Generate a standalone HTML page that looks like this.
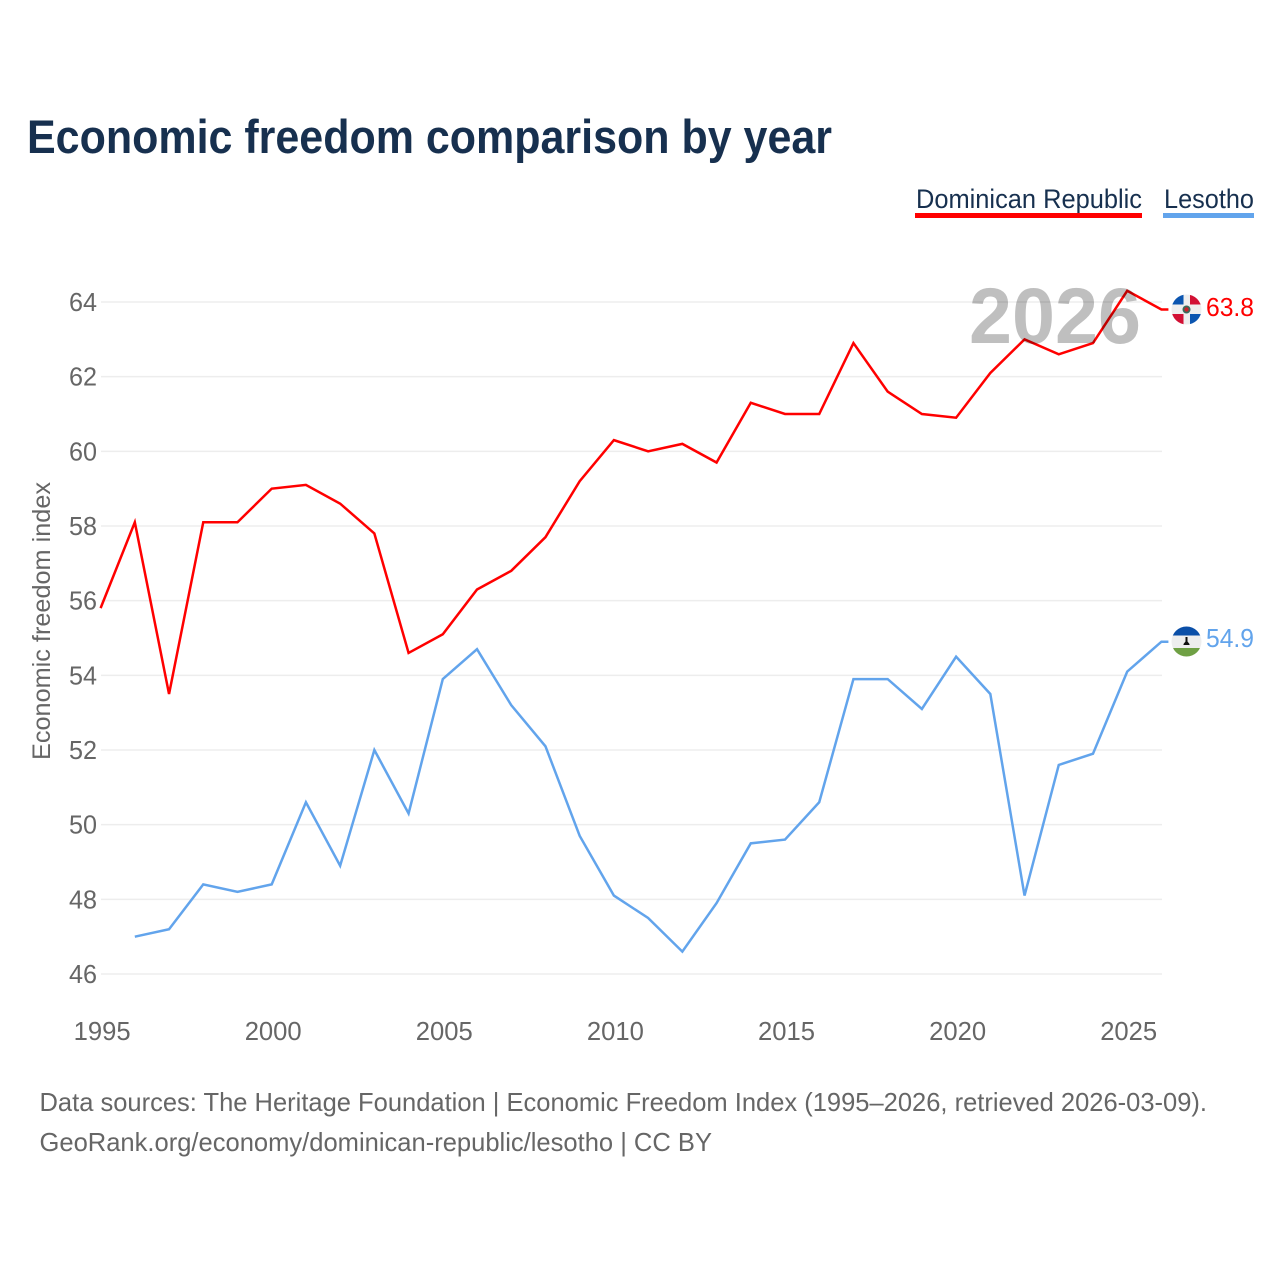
<!DOCTYPE html>
<html lang="en">
<head>
<meta charset="utf-8">
<title>Economic freedom comparison by year</title>
<style>
html,body{margin:0;padding:0;background:#fff;width:1280px;height:1280px;overflow:hidden}
svg{display:block}
text{font-family:"Liberation Sans",Arial,sans-serif}
</style>
</head>
<body>
<svg id="chart" xmlns="http://www.w3.org/2000/svg" width="1280" height="1280" viewBox="0 0 1280 1280">
  <defs>
    <clipPath id="flag-clip-do"><circle cx="1186.5" cy="309.5" r="15"/></clipPath>
    <clipPath id="flag-clip-ls"><circle cx="1186.5" cy="641.5" r="15"/></clipPath>
  </defs>
  <rect width="1280" height="1280" fill="#fff"/>
  <text x="27" y="153" font-size="47" font-weight="700" fill="#17304f" textLength="805" lengthAdjust="spacingAndGlyphs">Economic freedom comparison by year</text>

  <g>
    <text x="916" y="208" font-size="27" fill="#17304f" textLength="226" lengthAdjust="spacingAndGlyphs">Dominican Republic</text>
    <rect x="915" y="213" width="227" height="5" fill="#ff0000"/>
  </g>
  <g>
    <text x="1164" y="208" font-size="27" fill="#17304f" textLength="90" lengthAdjust="spacingAndGlyphs">Lesotho</text>
    <rect x="1163" y="213" width="91" height="5" fill="#62a4ec"/>
  </g>

  <g id="grid"></g>
  <g id="y-ticks"></g>
  <g id="x-ticks"></g>
  <text transform="translate(50,760) rotate(-90)" x="0" y="0" font-size="25" fill="#666" textLength="278" lengthAdjust="spacingAndGlyphs">Economic freedom index</text>
  <g id="series"></g>

  <text x="969" y="343" font-size="79" font-weight="700" fill="#000" fill-opacity="0.25" textLength="172" lengthAdjust="spacingAndGlyphs">2026</text>

  <g clip-path="url(#flag-clip-do)">
    <rect x="1171" y="294" width="31" height="31" fill="#eee"/>
    <rect x="1171" y="294" width="12.5" height="10.5" fill="#0b55b0"/>
    <rect x="1190" y="294" width="12" height="10.500" fill="#d21034"/>
    <rect x="1171" y="314" width="12.5" height="11" fill="#d21034"/>
    <rect x="1190" y="314" width="12" height="11" fill="#0b55b0"/>
    <circle cx="1186.5" cy="309.5" r="4" fill="#3a6a5a"/>
    <circle cx="1186.5" cy="309.5" r="2.200" fill="#c8232c"/>
  </g>
  <g clip-path="url(#flag-clip-ls)">
    <rect x="1171" y="626" width="31" height="9.500" fill="#0b4fa8"/>
    <rect x="1171" y="635.500" width="31" height="12.500" fill="#eee"/>
    <rect x="1171" y="648" width="31" height="10" fill="#6fa044"/>
    <path d="M1185.500 637h2v4.500l2 2.500v1h-6v-1l2-2.500z" fill="#111"/>
  </g>

  <text id="label-do" x="1206" y="316" font-size="26" fill="#ff0000" textLength="48" lengthAdjust="spacingAndGlyphs"></text>
  <text id="label-ls" x="1206" y="647" font-size="26" fill="#62a4ec" textLength="48" lengthAdjust="spacingAndGlyphs"></text>

  <text x="39.500" y="1111" font-size="26" fill="#666" textLength="1167.500" lengthAdjust="spacingAndGlyphs">Data sources: The Heritage Foundation | Economic Freedom Index (1995–2026, retrieved 2026-03-09).</text>
  <text x="39.500" y="1151" font-size="26" fill="#666" textLength="672.500" lengthAdjust="spacingAndGlyphs">GeoRank.org/economy/dominican-republic/lesotho | CC BY</text>
</svg>
<script>
const years = [1995,1996,1997,1998,1999,2000,2001,2002,2003,2004,2005,2006,2007,2008,2009,2010,2011,2012,2013,2014,2015,2016,2017,2018,2019,2020,2021,2022,2023,2024,2025,2026];
const dominicanRepublic = [55.8,58.1,53.5,58.1,58.1,59.0,59.1,58.6,57.8,54.6,55.1,56.3,56.8,57.7,59.2,60.3,60.0,60.2,59.7,61.3,61.0,61.0,62.9,61.6,61.0,60.9,62.1,63.0,62.6,62.9,64.3,63.8];
const lesotho = [null,47.0,47.2,48.4,48.2,48.4,50.6,48.9,52.0,50.3,53.9,54.7,53.2,52.1,49.7,48.1,47.5,46.6,47.9,49.5,49.6,50.6,53.9,53.9,53.1,54.5,53.5,48.1,51.6,51.9,54.1,54.9];
const yTickLabels = [46,48,50,52,54,56,58,60,62,64];
const xTickLabels = [1995,2000,2005,2010,2015,2020,2025];

const NS = 'http://www.w3.org/2000/svg';
function xScale(year){ return 100.6 + (year - 1995) * 34.22; }
function yScale(value){ return 974 - (value - 46) * (974 - 302) / 18; }

const gridGroup = document.getElementById('grid');
const yTickGroup = document.getElementById('y-ticks');
const xTickGroup = document.getElementById('x-ticks');
const seriesGroup = document.getElementById('series');

yTickLabels.forEach(function(tick){
  const line = document.createElementNS(NS, 'line');
  
  
  line.setAttribute('x1', 101);
  line.setAttribute('x2', 1162);
  line.setAttribute('y1', yScale(tick));
  line.setAttribute('y2', yScale(tick));
  line.setAttribute('stroke', '#ededed');
  line.setAttribute('stroke-width', '1.5');
  gridGroup.appendChild(line);

  const label = document.createElementNS(NS, 'text');
  
  
  label.setAttribute('x', 69);
  label.setAttribute('y', yScale(tick) + 9);
  label.setAttribute('font-size', '26');
  label.setAttribute('fill', '#666');
  label.setAttribute('textLength', '28');
  label.setAttribute('lengthAdjust', 'spacingAndGlyphs');
  label.textContent = tick;
  yTickGroup.appendChild(label);
});

xTickLabels.forEach(function(tick){
  const label = document.createElementNS(NS, 'text');
  
  
  label.setAttribute('x', xScale(tick) - 27);
  label.setAttribute('y', 1040);
  label.setAttribute('font-size', '26');
  label.setAttribute('fill', '#666');
  label.setAttribute('textLength', '57');
  label.setAttribute('lengthAdjust', 'spacingAndGlyphs');
  label.textContent = tick;
  xTickGroup.appendChild(label);
});

function drawSeries(values, color, name){
  let d = '';
  let lastX = 0;
  let lastY = 0;
  values.forEach(function(value, i){
    if (value === null) return;
    lastX = xScale(years[i]);
    lastY = yScale(value);
    d += (d ? 'L' : 'M') + lastX.toFixed(2) + ' ' + lastY.toFixed(2);
  });
  d += 'L' + (lastX + 7).toFixed(2) + ' ' + lastY.toFixed(2);
  const path = document.createElementNS(NS, 'path');
  
  
  path.setAttribute('d', d);
  path.setAttribute('fill', 'none');
  path.setAttribute('stroke', color);
  path.setAttribute('stroke-width', '2.5');
  path.setAttribute('stroke-linejoin', 'miter');
  seriesGroup.appendChild(path);
}
drawSeries(dominicanRepublic, '#ff0000', 'line-dominican-republic');
drawSeries(lesotho, '#62a4ec', 'line-lesotho');

document.getElementById('label-do').textContent = dominicanRepublic[dominicanRepublic.length - 1].toFixed(1);
document.getElementById('label-ls').textContent = lesotho[lesotho.length - 1].toFixed(1);
</script>
</body>
</html>
